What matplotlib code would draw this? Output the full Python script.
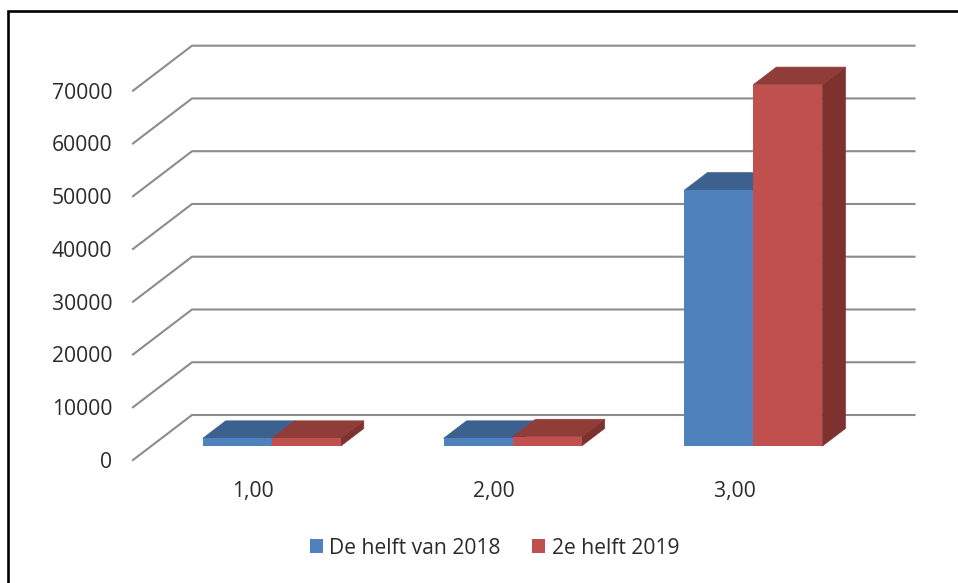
import matplotlib
matplotlib.use('Agg')
import matplotlib.pyplot as plt
from matplotlib.lines import Line2D

# Datos
categorias = [1, 2, 3]
etiquetas_x = ['1,00', '2,00', '3,00']
helft_2018 = [1450, 1450, 48500]
helft_2019 = [1450, 1750, 68500]
ticks_y = [0, 10000, 20000, 30000, 40000, 50000, 60000, 70000]

series = [
    ('De helft van 2018', helft_2018, '#4F81BD', '#3C618E', '#2F4D71'),
    ('2e helft 2019', helft_2019, '#C0504D', '#903C39', '#7E3230'),
]

ANCHO, ALTO = 958, 583
plt.rcParams['font.family'] = ['Open Sans', 'DejaVu Sans']

fig = plt.figure(figsize=(ANCHO / 100, ALTO / 100), dpi=100)
ax = fig.add_axes([133 / ANCHO, (ALTO - 460) / ALTO, 722.5 / ANCHO, 369.3 / ALTO])
ax.set_xlim(0.5, 3.5)
ax.set_ylim(0, 70000)
ax.patch.set_visible(False)
for s in ax.spines.values():
    s.set_visible(False)

# Profundidad del falso 3D, en unidades de datos
prof_x = 59 / 240.8
prof_y = 45 / 369.3 * 70000
f0, f1 = 0.31, 0.70
ancho_barra = 69 / 240.8

# Rejilla: diagonal en el suelo y linea en la pared del fondo
for v in ticks_y:
    ax.plot([0.5, 0.5 + prof_x, 3.5 + prof_x], [v, v + prof_y, v + prof_y],
            color='#8C8C8C', lw=1.5, clip_on=False, zorder=1, solid_joinstyle='miter')

for i, (nombre, valores, color, arriba, lado) in enumerate(series):
    for c, v in zip(categorias, valores):
        x0 = c + (i - 1) * ancho_barra + f0 * prof_x
        x1 = x0 + ancho_barra
        base = f0 * prof_y
        dx = (f1 - f0) * prof_x
        dy = (f1 - f0) * prof_y
        # cara lateral y cara superior, con borde fino para tapar la junta
        ax.fill([x1, x1 + dx, x1 + dx, x1], [base, base + dy, base + dy + v, base + v],
                facecolor=lado, edgecolor=lado, lw=0.5, clip_on=False, zorder=2 + i)
        ax.fill([x0, x1, x1 + dx, x0 + dx], [base + v, base + v, base + v + dy, base + v + dy],
                facecolor=arriba, edgecolor=arriba, lw=0.5, clip_on=False, zorder=2 + i)
        ax.bar(x0, v, width=ancho_barra, bottom=base, align='edge', color=color, lw=0,
               clip_on=False, zorder=2 + i)

ax.set_xlim(0.5, 3.5)
ax.set_ylim(0, 70000)
ax.set_xticks(categorias)
ax.set_xticklabels(etiquetas_x)
ax.set_yticks(ticks_y)
ax.set_yticklabels([str(v) for v in ticks_y])
ax.tick_params(axis='both', length=0, labelsize=15.2, labelcolor='#2b2b2b')
ax.tick_params(axis='y', pad=15)
ax.tick_params(axis='x', pad=15)

# Leyenda
marcas = [plt.Rectangle((0, 0), 1, 1, color=s[2], lw=0) for s in series]
fig.legend(marcas, [s[0] for s in series], ncol=2, frameon=False, fontsize=15.2,
           loc='center', bbox_to_anchor=(494.5 / ANCHO, (ALTO - 548) / ALTO),
           handlelength=0.62, handleheight=0.62, handletextpad=0.31, columnspacing=1.47,
           labelcolor='#2b2b2b')

# Marco negro de la captura: solo arriba y a la izquierda
fig.add_artist(Line2D([8 / ANCHO, 8 / ANCHO, 1], [0, (ALTO - 10.5) / ALTO, (ALTO - 10.5) / ALTO],
                      color='black', lw=1.9, solid_joinstyle='miter'))

fig.savefig('out.png', dpi=100)
